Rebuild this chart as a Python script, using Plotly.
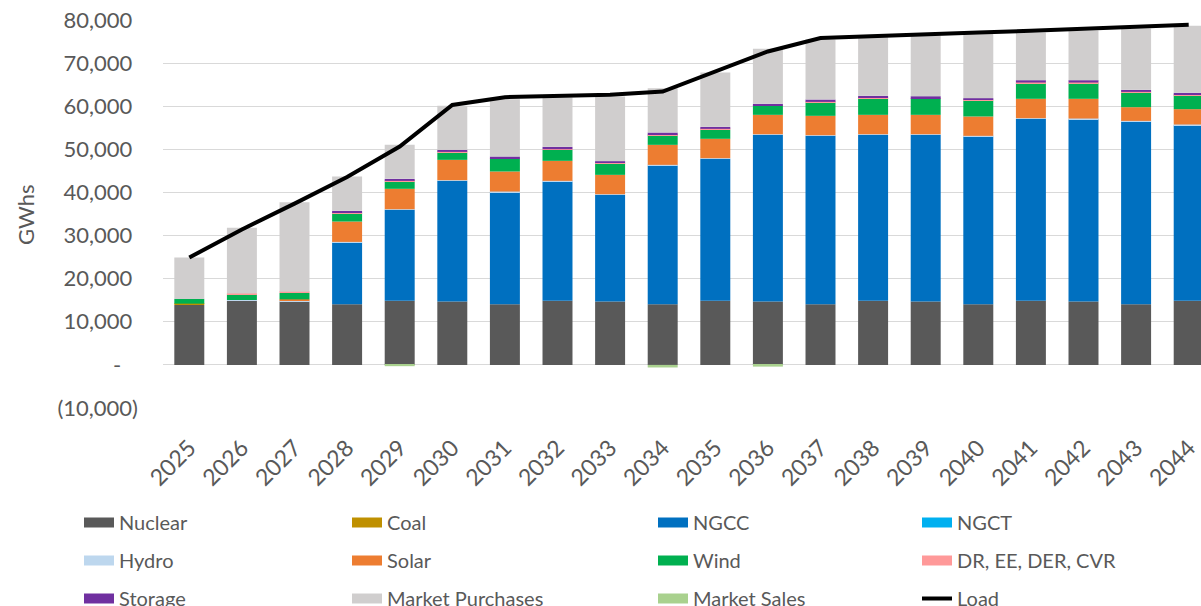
import plotly.graph_objects as go

years = [str(y) for y in range(2025, 2045)]

nuclear = [13900, 14900, 14700, 14050, 14850, 14700, 14080, 14850, 14700, 14080,
           14850, 14700, 14080, 14850, 14700, 14080, 14850, 14700, 14080, 14850]
coal = [300, 0, 0, 0, 0, 0, 0, 0, 0, 0, 0, 0, 0, 0, 0, 0, 0, 0, 0, 0]
ngcc = [0, 0, 0, 14330, 21110, 28000, 25980, 27690, 24740, 32170,
        32950, 38660, 39050, 38510, 38660, 38900, 42230, 42300, 42370, 40760]
ngct = [0] * 20
hydro = [0, 150, 150, 150, 150, 150, 150, 150, 150, 150,
         150, 150, 150, 150, 150, 150, 150, 150, 150, 150]
solar = [0, 0, 350, 4720, 4730, 4710, 4650, 4640, 4490, 4640,
         4490, 4490, 4490, 4490, 4490, 4490, 4490, 4570, 3180, 3560]
wind = [1110, 1260, 1500, 1940, 1690, 1700, 2940, 2550, 2710, 2250,
        2160, 2090, 3090, 3880, 3720, 3710, 3630, 3630, 3400, 3250]
dr = [0, 230, 240, 150, 150, 150, 150, 150, 150, 150,
      150, 150, 150, 150, 150, 150, 150, 150, 150, 150]
storage = [0, 0, 0, 390, 470, 470, 390, 550, 310, 460,
           470, 320, 550, 380, 460, 390, 550, 550, 470, 390]
market_purchases = [9590, 15250, 20810, 7970, 7890, 10220, 13300, 11440, 15000, 10290,
                    12610, 12760, 13940, 13590, 14000, 14930, 11050, 11510, 14200, 15540]
market_sales = [0, 0, 0, 0, -300, 0, 0, 0, 0, -600,
                0, -400, 0, 0, 0, 0, 0, 0, 0, 0]
load = [24900, 31400, 37400, 43600, 50650, 60300, 62100, 62400, 62650, 63400,
        68050, 72700, 75800, 76300, 76650, 77100, 77500, 77950, 78350, 78900]

y_tickvals = [-10000, 0, 10000, 20000, 30000, 40000, 50000, 60000, 70000, 80000]
y_ticktext = ["(10,000)", "-\u00a0\u00a0\u00a0"] + [f"{v:,}\u00a0" for v in y_tickvals[2:]]
y_title = "GWhs"

FONT = "Lato"
GREY = "#595959"

series = [
    ("Nuclear", nuclear, "#595959", "legend"),
    ("Coal", coal, "#BF9000", "legend2"),
    ("NGCC", ngcc, "#0070C0", "legend3"),
    ("NGCT", ngct, "#00B0F0", "legend4"),
    ("Hydro", hydro, "#BDD7EE", "legend"),
    ("Solar", solar, "#ED7D31", "legend2"),
    ("Wind", wind, "#00B050", "legend3"),
    ("DR, EE, DER, CVR", dr, "#FF9999", "legend4"),
    ("Storage", storage, "#7030A0", "legend"),
    ("Market Purchases", market_purchases, "#D0CECE", "legend2"),
    ("Market Sales", market_sales, "#A9D18E", "legend3"),
]

fig = go.Figure()
for i, (name, vals, color, lg) in enumerate(series):
    fig.add_trace(go.Bar(
        x=years, y=vals, name=name, marker=dict(color=color, line=dict(width=0)),
        showlegend=False, legendgroup=name,
    ))
    # legend key: wide rectangular swatch (no data drawn)
    fig.add_trace(go.Scatter(
        x=[None], y=[None], name=name, mode="lines",
        line=dict(color=color, width=12), legend=lg, legendgroup=name,
        legendrank=i + 1, hoverinfo="skip",
    ))

fig.add_trace(go.Scatter(
    x=years, y=load, name="Load", mode="lines",
    line=dict(color="black", width=4), legend="legend4", legendgroup="Load", legendrank=12,
))

plot_left, plot_right, plot_top, plot_bottom = 163, 1201, 20, 408
pw = plot_right - plot_left
ph = plot_bottom - plot_top


def lx(px):
    return (px - plot_left) / pw


def ly(py):
    return (plot_bottom - py) / ph


legend_common = dict(
    orientation="v", xanchor="left", yanchor="top",
    font=dict(family=FONT, size=20, color=GREY),
    bgcolor="rgba(0,0,0,0)", borderwidth=0, tracegroupgap=9,
    itemclick=False, itemdoubleclick=False,
)
legend_text_x = [121, 389, 695, 959]
legend_top = 503
fig.update_layout(
    legend=dict(x=lx(legend_text_x[0] - 42), y=ly(legend_top), **legend_common),
    legend2=dict(x=lx(legend_text_x[1] - 42), y=ly(legend_top), **legend_common),
    legend3=dict(x=lx(legend_text_x[2] - 42), y=ly(legend_top), **legend_common),
    legend4=dict(x=lx(legend_text_x[3] - 42), y=ly(legend_top), **legend_common),
)

fig.update_layout(
    barmode="relative",
    bargap=0.43,
    width=1201, height=606,
    margin=dict(l=plot_left, r=0, t=plot_top, b=606 - plot_bottom, pad=0, autoexpand=False),
    plot_bgcolor="white", paper_bgcolor="white",
    font=dict(family=FONT, color=GREY),
    showlegend=True,
)

fig.add_annotation(
    text=y_title, xref="paper", yref="paper", x=lx(25), y=ly(215),
    xanchor="center", yanchor="middle", textangle=-90, showarrow=False,
    font=dict(family=FONT, size=22, color=GREY),
)

fig.update_xaxes(
    type="category", range=[-0.5, 19.5 - (1215 - 1201) / 52.6],
    tickangle=-45, tickfont=dict(family=FONT, size=23, color=GREY),
    showgrid=False, showline=False, ticks="", ticklabelstandoff=21,
)
fig.update_yaxes(
    range=[-10000, 80000], tickvals=y_tickvals, ticktext=y_ticktext,
    tickfont=dict(family=FONT, size=22, color=GREY),
    showgrid=True, gridcolor="#D9D9D9", gridwidth=1.3,
    zeroline=True, zerolinecolor="#D9D9D9", zerolinewidth=1.3,
    showline=False, ticks="", ticklabelstandoff=24,
)

fig.write_html(
    "out.html",
    config={"displayModeBar": False},
    post_script="document.body.style.margin='0px';document.body.style.overflow='hidden';",
)
